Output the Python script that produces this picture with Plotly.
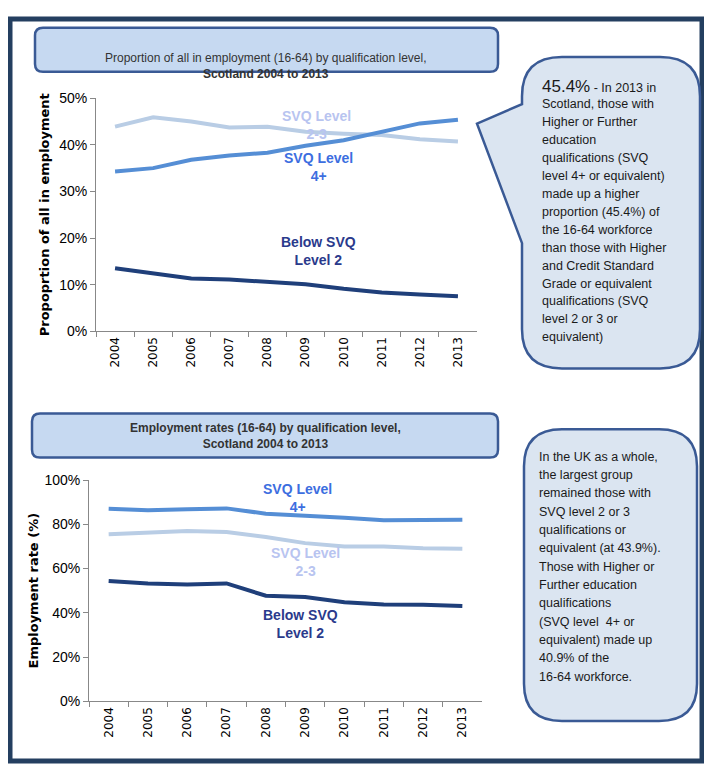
import plotly.graph_objects as go

years = [str(y) for y in range(2004, 2014)]
top_svq4 = [34.3, 35.0, 36.8, 37.7, 38.3, 39.8, 41.0, 42.8, 44.6, 45.4]
top_svq23 = [43.9, 45.9, 45.0, 43.7, 43.9, 42.8, 42.4, 42.1, 41.2, 40.7]
top_below = [13.5, 12.5, 11.3, 11.1, 10.5, 10.1, 9.1, 8.3, 7.9, 7.5]
bot_svq4 = [87.0, 86.3, 86.8, 87.2, 84.8, 84.0, 83.0, 81.8, 82.0, 82.1]
bot_svq23 = [75.5, 76.2, 77.0, 76.5, 74.3, 71.5, 70.0, 70.0, 69.2, 69.0]
bot_below = [54.4, 53.3, 52.8, 53.3, 47.7, 47.1, 44.8, 43.8, 43.6, 43.1]

top_note = ["<span style='font-size:17px'>45.4%</span> - In 2013 in", "Scotland, those with", "Higher or Further",
            "education", "qualifications (SVQ", "level 4+ or equivalent)", "made up a higher",
            "proportion (45.4%) of", "the 16-64 workforce", "than those with Higher", "and Credit Standard",
            "Grade or equivalent", "qualifications (SVQ", "level 2 or 3 or", "equivalent)"]
bot_note = ["In the UK as a whole,", "the largest group", "remained those with", "SVQ level 2 or 3",
            "qualifications or", "equivalent (at 43.9%).", "Those with Higher or", "Further education",
            "qualifications", "(SVQ level  4+ or", "equivalent) made up", "40.9% of the", "16-64 workforce."]

W, H = 712, 779
OFF = 8
FW, FH = W - 2 * OFF, H - 2 * OFF
def px(x): return (x - OFF) / FW
def py(y): return 1 - (y - OFF) / FH

C4, C23, CB = "#558ed5", "#b9cde5", "#1f3f7a"
L4, L23, LB = "#3c6ee0", "#b8c4f0", "#2a3a8c"
FONT = "Liberation Sans, sans-serif"

fig = go.Figure()
for data, col, xa, ya in [(top_svq23, C23, "x", "y"), (top_svq4, C4, "x", "y"), (top_below, CB, "x", "y"),
                          (bot_svq23, C23, "x2", "y2"), (bot_svq4, C4, "x2", "y2"), (bot_below, CB, "x2", "y2")]:
    fig.add_trace(go.Scatter(x=years, y=data, mode="lines", line=dict(color=col, width=4),
                             xaxis=xa, yaxis=ya, showlegend=False, hoverinfo="skip"))

def rr(x0, y0, x1, y1, r):
    return (f"M {px(x0+r)},{py(y0)} L {px(x1-r)},{py(y0)} Q {px(x1)},{py(y0)} {px(x1)},{py(y0+r)} "
            f"L {px(x1)},{py(y1-r)} Q {px(x1)},{py(y1)} {px(x1-r)},{py(y1)} L {px(x0+r)},{py(y1)} "
            f"Q {px(x0)},{py(y1)} {px(x0)},{py(y1-r)} L {px(x0)},{py(y0+r)} Q {px(x0)},{py(y0)} {px(x0+r)},{py(y0)} Z")

shapes = [
    dict(type="rect", xref="paper", yref="paper", x0=px(10), y0=py(769), x1=px(702), y1=py(11),
         line=dict(color="#243f60", width=5)),
    dict(type="path", xref="paper", yref="paper", path=rr(35, 20, 498, 65, 8),
         fillcolor="#c6d9f1", line=dict(color="#3a5a95", width=2.5)),
    dict(type="path", xref="paper", yref="paper", path=rr(32, 414, 498, 459, 8),
         fillcolor="#c6d9f1", line=dict(color="#3a5a95", width=2.5)),
    dict(type="path", xref="paper", yref="paper", path=rr(524, 430, 697, 728, 38),
         fillcolor="#dbe5f1", line=dict(color="#3a5a95", width=2.5)),
]
x0, y0, x1, y1, r = 522, 50, 700, 368, 40
path = (f"M {px(x0+r)},{py(y0)} L {px(x1-r)},{py(y0)} Q {px(x1)},{py(y0)} {px(x1)},{py(y0+r)} "
        f"L {px(x1)},{py(y1-r)} Q {px(x1)},{py(y1)} {px(x1-r)},{py(y1)} L {px(x0+r)},{py(y1)} "
        f"Q {px(x0)},{py(y1)} {px(x0)},{py(y1-r)} L {px(x0)},{py(240)} L {px(477)},{py(118)} "
        f"L {px(x0)},{py(98)} L {px(x0)},{py(y0+r)} Q {px(x0)},{py(y0)} {px(x0+r)},{py(y0)} Z")
shapes.append(dict(type="path", xref="paper", yref="paper", path=path,
                   fillcolor="#dbe5f1", line=dict(color="#3a5a95", width=2.5)))

ann = []
def a(x, y, t, col, xr="x", yr="y", size=14, bold=True, **k):
    ann.append(dict(x=x, y=y, xref=xr, yref=yr, text=f"<b>{t}</b>" if bold else t, showarrow=False,
                    font=dict(family=FONT, size=size, color=col), **k))

a(px(266), py(42), "Proportion of all in employment (16-64) by qualification level,<br><b>Scotland 2004 to 2013</b>",
  "#333333", "paper", "paper", 12, False)
a(px(265), py(437), "Employment rates (16-64) by qualification level,<br>Scotland 2004 to 2013",
  "#333333", "paper", "paper", 12, True)

a("2013", 47.7, "45.4%", L4); a("2013", 37.8, "40.7%", L23); a("2013", 11.5, "7.5%", "#000000")
a("2004", 40.6, "43.9%", L23, xshift=6); a("2004", 30.5, "34.3%", L4, xshift=6); a("2004", 15.5, "13.5%", "#000000", xshift=6)
a(5.3, 44.3, "SVQ Level<br>2-3", L23); a(5.35, 35.3, "SVQ Level<br>4+", L4); a(5.35, 17.3, "Below SVQ<br>Level 2", LB)
a("2013", 91, "82.1%", L4, "x2", "y2"); a("2013", 59, "69.0%", L23, "x2", "y2"); a("2013", 33.5, "43.1%", "#000000", "x2", "y2")
a("2004", 91, "87.0%", L4, "x2", "y2", xshift=6); a("2004", 70.5, "75.5%", L23, "x2", "y2", xshift=6)
a("2004", 43.5, "54.4%", "#000000", "x2", "y2", xshift=6)
a(4.8, 92, "SVQ Level<br>4+", L4, "x2", "y2"); a(5.0, 63, "SVQ Level<br>2-3", L23, "x2", "y2")
a(4.88, 35, "Below SVQ<br>Level 2", LB, "x2", "y2")

for i, line in enumerate(top_note):
    ann.append(dict(x=px(540), y=py(80 + i * 18.3), xref="paper", yref="paper", xanchor="left", yanchor="middle",
                    showarrow=False, text=line, font=dict(family=FONT, size=12.5, color="#1a1a1a")))
for i, line in enumerate(bot_note):
    ann.append(dict(x=px(537), y=py(458 + i * 18.75), xref="paper", yref="paper", xanchor="left", yanchor="middle",
                    showarrow=False, text=line, font=dict(family=FONT, size=12.5, color="#1a1a1a")))

xcommon = dict(type="category", tickangle=-90, range=[-0.5, 9.5], showline=True, linecolor="#888888",
               ticks="outside", tickson="boundaries", ticklen=5, tickcolor="#888888", showgrid=False,
               tickfont=dict(family="DejaVu Sans", size=12, color="#000000"))
ycommon = dict(showline=True, linecolor="#888888", ticks="outside", ticklen=5, tickcolor="#888888",
               showgrid=False, zeroline=False, ticksuffix="%",
               tickfont=dict(family=FONT, size=14, color="#000000"))

fig.update_layout(
    width=FW, height=FH, margin=dict(l=0, r=0, t=0, b=0), plot_bgcolor="white", paper_bgcolor="white",
    xaxis=dict(domain=[px(96), px(477)], anchor="y", **xcommon),
    yaxis=dict(domain=[py(330), py(92)], range=[0, 50], dtick=10, anchor="x",
               title=dict(text="<b>Propoprtion of all in employment</b>", font=dict(family="DejaVu Sans", size=13, color="#000"), standoff=6),
               **ycommon),
    xaxis2=dict(domain=[px(89), px(482)], anchor="y2", **xcommon),
    yaxis2=dict(domain=[py(708), py(482)], range=[0, 100], dtick=20, anchor="x2",
                title=dict(text="<b>Employment rate (%)</b>", font=dict(family="DejaVu Sans", size=13, color="#000"), standoff=2),
                **ycommon),
    shapes=shapes, annotations=ann,
)
fig.write_html("out.html")
